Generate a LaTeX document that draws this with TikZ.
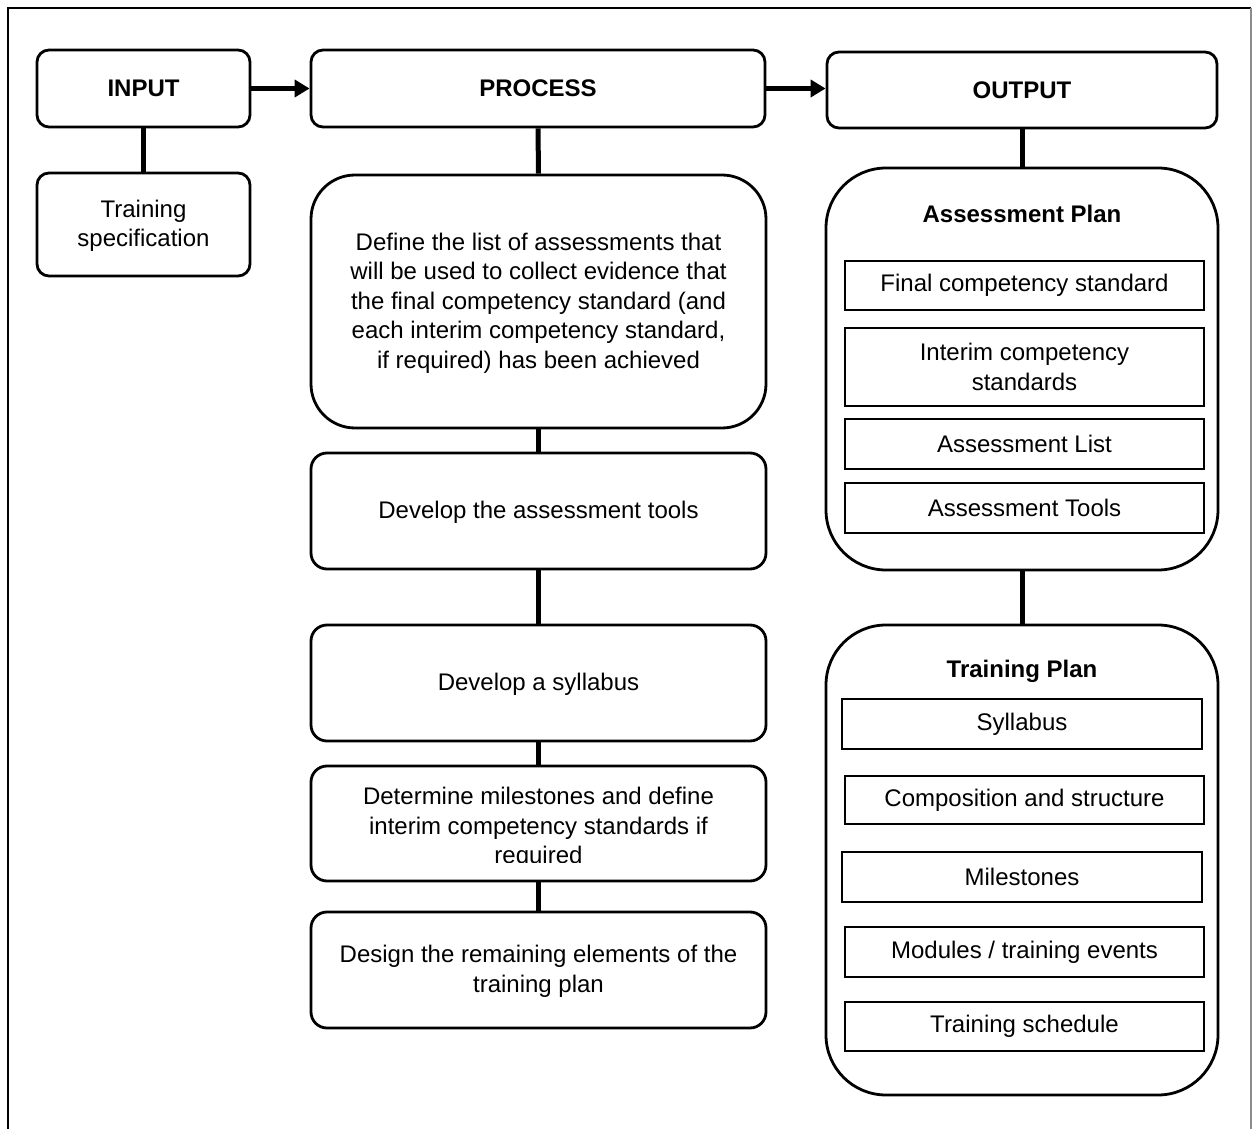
\documentclass[tikz,border=0pt]{standalone}
\usepackage{fontspec}
\setmainfont{Liberation Sans}
\usetikzlibrary{arrows.meta}
\begin{document}
\begin{tikzpicture}[x=0.5pt,y=-0.5pt,
  base/.style={draw=black, line width=1.4pt, align=center, inner sep=0pt,
    font=\fontsize{12}{14.75}\selectfont, text=black},
  rbox/.style={base, rounded corners=6pt},
  bigbox/.style={base, rounded corners=22pt},
  planbox/.style={base, rounded corners=30pt, minimum width=196pt},
  ibox/.style={base, line width=1pt, rounded corners=0pt},
  procbox/.style={rbox, minimum width=227.5pt, minimum height=58pt},
  txt/.style={align=center, inner sep=0pt, font=\fontsize{12}{14.75}\selectfont},
  ttl/.style={txt, font=\fontsize{12}{14.75}\selectfont\bfseries},
  conn/.style={draw=black, line width=2.5pt},
  arr/.style={conn, -{Triangle[length=7.5pt,width=8.5pt]}}
]
\useasboundingbox (0,0) rectangle (1254,1129);
% outer frame
\draw[line width=1pt] (8,1140) -- (8,8) -- (1251,8);
\draw[line width=1pt, draw=black!45] (1251,8) -- (1251,1140);

% INPUT column
\node[rbox, minimum width=106.5pt, minimum height=38.5pt] (input) at (143.5,88.5) {\bfseries INPUT};
\node[rbox, minimum width=106.5pt, minimum height=51.5pt] (spec) at (143.5,224.5) {};
\node[txt] (spectext) at (143.5,226) {Training\\specification};

% PROCESS column
\node[rbox, minimum width=227pt, minimum height=38.5pt] (process) at (538,88.5) {\bfseries PROCESS};
\node[bigbox, minimum width=227.5pt, minimum height=126.5pt] (define) at (538.5,301.5) {};
\node[txt] (definetext) at (538.5,303)
  {Define the list of assessments that\\will be used to collect evidence that\\the final competency standard (and\\each interim competency standard,\\if required) has been achieved};
\node[procbox, rounded corners=8pt] (tools) at (538.5,511) {};
\node[txt] (toolstext) at (538.5,512.5) {Develop the assessment tools};
\node[procbox, rounded corners=8pt] (syll) at (538.5,683) {};
\node[txt] (sylltext) at (538.5,684.5) {Develop a syllabus};
\node[procbox, rounded corners=8pt, minimum height=57.5pt] (determ) at (538.5,823.5) {};
\begin{scope}
  \clip (311,766) rectangle (766,862);
  \node[txt] (determtext) at (538.5,828) {Determine milestones and define\\interim competency standards if\\required};
\end{scope}
\node[procbox, rounded corners=8pt] (design) at (538.5,970) {};
\node[txt] (designtext) at (538.5,971.5) {Design the remaining elements of the\\training plan};

% OUTPUT column
\node[rbox, minimum width=195pt, minimum height=38pt] (output) at (1022,90) {\bfseries OUTPUT};
\node[planbox, minimum height=201pt] (aplan) at (1022,369) {};
\node[ttl] (aplantitle) at (1022,214) {Assessment Plan};
\node[ibox, minimum width=179.5pt, minimum height=24.5pt] (afinal) at (1024.5,285.5) {Final competency standard};
\node[ibox, minimum width=179.5pt, minimum height=39pt] (ainterim) at (1024.5,367) {Interim competency\\standards};
\node[ibox, minimum width=179.5pt, minimum height=25pt] (alist) at (1024.5,444) {Assessment List};
\node[ibox, minimum width=179.5pt, minimum height=25pt] (atools) at (1024.5,508) {Assessment Tools};

\node[planbox, minimum height=235pt] (tplan) at (1022,860) {};
\node[ttl] (tplantitle) at (1022,671) {Training Plan};
\node[ibox, minimum width=180pt, minimum height=25pt] (tsyll) at (1022,724) {Syllabus};
\node[ibox, minimum width=179.5pt, minimum height=24pt] (tcomp) at (1024.5,800) {Composition and structure};
\node[ibox, minimum width=180pt, minimum height=25pt] (tmile) at (1022,877) {Milestones};
\node[ibox, minimum width=179.5pt, minimum height=25pt] (tmod) at (1024.5,952) {Modules / training events};
\node[ibox, minimum width=179.5pt, minimum height=24.5pt] (tsched) at (1024.5,1026.5) {Training schedule};

% connectors
\draw[arr] (input.east) -- (process.west);
\draw[arr] (process.east) -- (output.west |- process.east);
\draw[conn] (input.south) -- (spec.north);
\draw[conn] (process.south) -- (define.north);
\draw[conn] (define.south) -- (tools.north);
\draw[conn] (tools.south) -- (syll.north);
\draw[conn] (syll.south) -- (determ.north);
\draw[conn] (determ.south) -- (design.north);
\draw[conn] (output.south) -- (aplan.north);
\draw[conn] (aplan.south) -- (tplan.north);
\end{tikzpicture}
\end{document}
